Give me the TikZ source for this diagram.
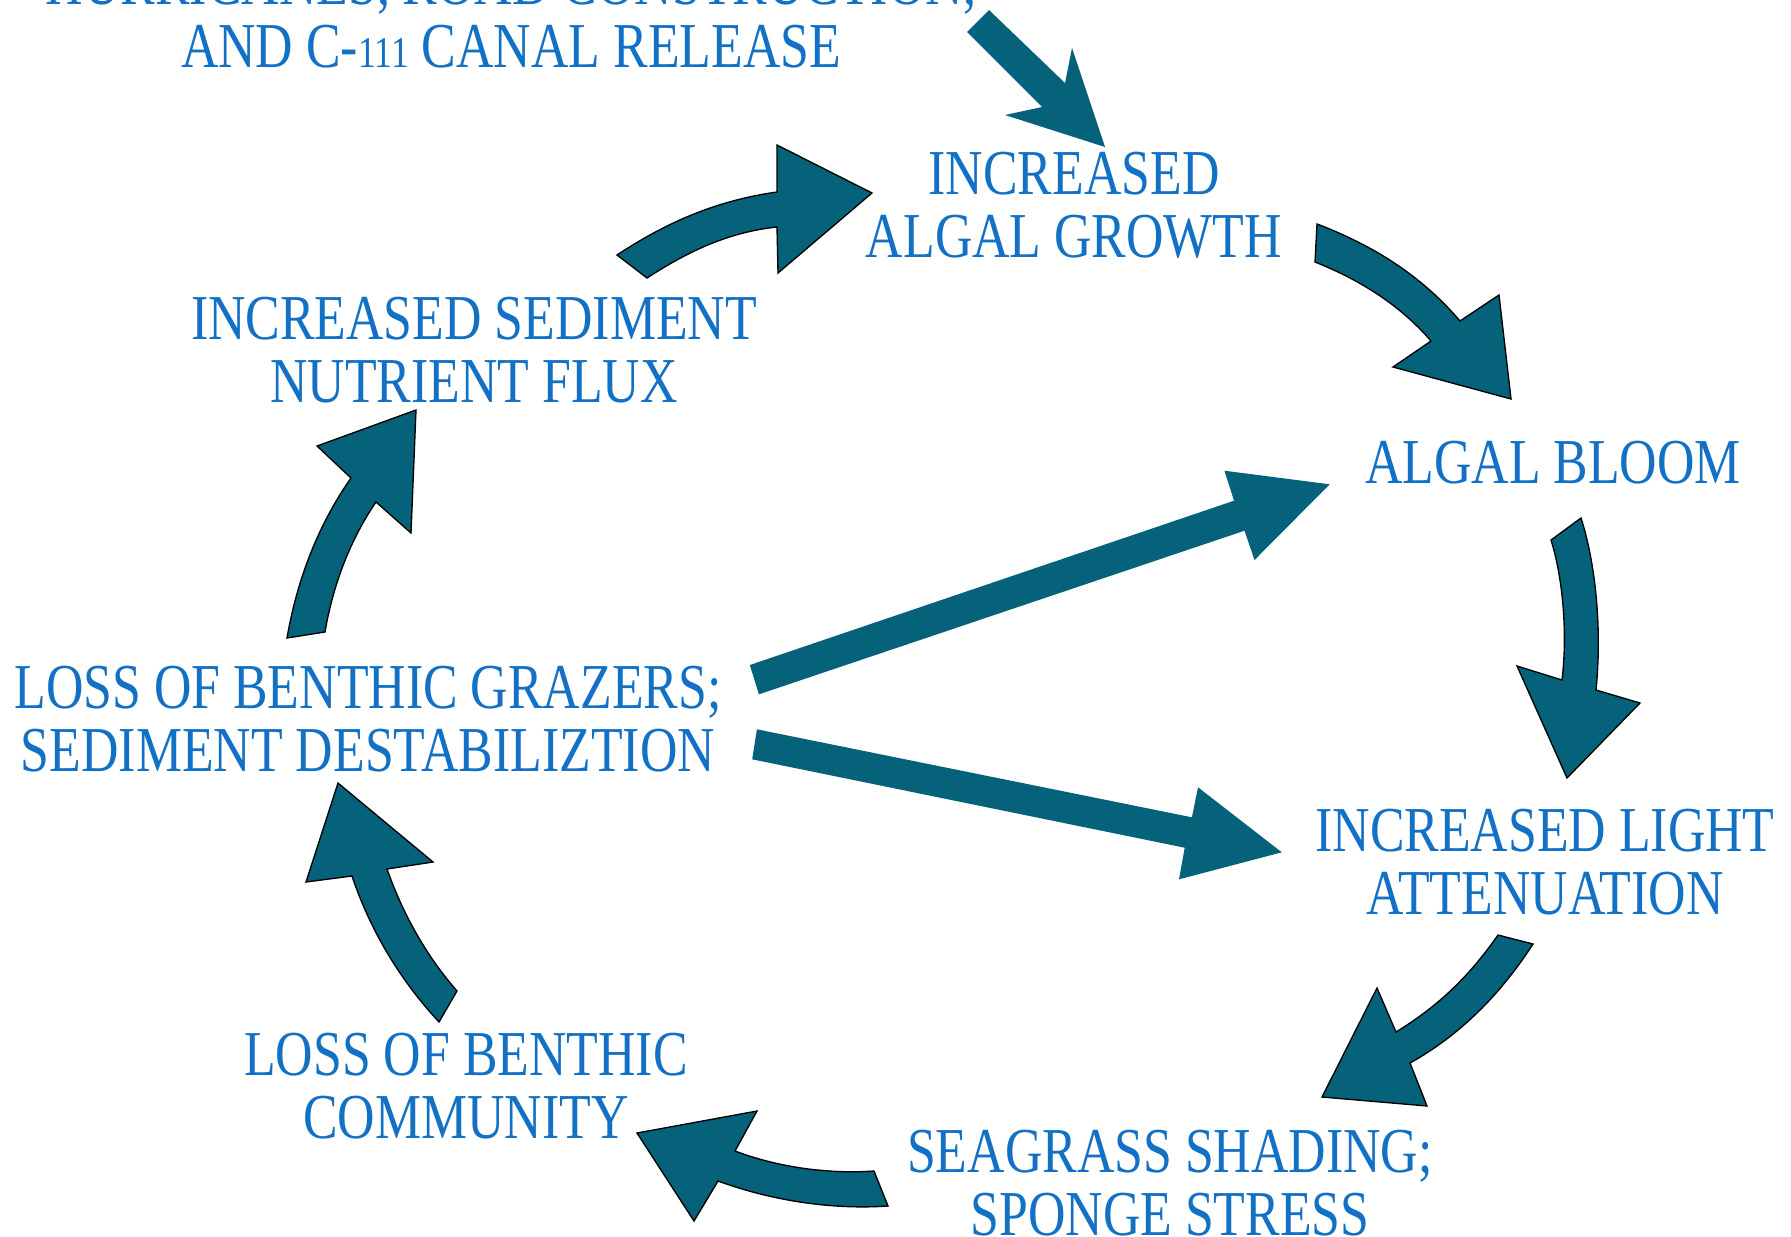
\documentclass[tikz,border=0pt]{standalone}
\usepackage{fontspec}
\setmainfont{Liberation Serif}[FakeStretch=0.81]
\definecolor{txtblue}{RGB}{19,113,197}
\definecolor{teal}{RGB}{5,98,122}
\begin{document}
\begin{tikzpicture}[x=0.75pt,y=-0.75pt,
  lbl/.style={anchor=base,inner sep=0pt,text=txtblue,font=\fontsize{48}{47.25}\selectfont},
  barrow/.style={fill=teal,draw=black,line width=1pt,line join=miter},
  plainarrow/.style={fill=teal,draw=none}]
\useasboundingbox (0,0) rectangle (1791,1236);
\fill[white] (0,0) rectangle (1791,1236);
\clip (0,0) rectangle (1791,1236);

% labels
\node[lbl] (src) at (511,4.6) {\begin{tabular}[t]{@{}c@{}}HURRICANES, ROAD CONSTRUCTION,\\AND C-{\fontsize{33}{33}\selectfont 111} CANAL RELEASE\end{tabular}};
\node[lbl] (growth) at (1074,194) {\begin{tabular}[t]{@{}c@{}}INCREASED\\ALGAL GROWTH\end{tabular}};
\node[lbl] (bloom) at (1553,483) {ALGAL BLOOM};
\node[lbl] (light) at (1545,851) {\begin{tabular}[t]{@{}c@{}}INCREASED LIGHT\\ATTENUATION\end{tabular}};
\node[lbl] (shade) at (1170,1172) {\begin{tabular}[t]{@{}c@{}}SEAGRASS SHADING;\\SPONGE STRESS\end{tabular}};
\node[lbl] (comm) at (466,1075) {\begin{tabular}[t]{@{}c@{}}LOSS OF BENTHIC\\COMMUNITY\end{tabular}};
\node[lbl] (graz) at (368,708) {\begin{tabular}[t]{@{}c@{}}LOSS OF BENTHIC GRAZERS;\\SEDIMENT DESTABILIZTION\end{tabular}};
\node[lbl] (flux) at (474,339) {\begin{tabular}[t]{@{}c@{}}INCREASED SEDIMENT\\NUTRIENT FLUX\end{tabular}};

% arrow A: source -> growth
\path[plainarrow] (989,10) -- (1065,83) -- (1072,48) -- (1105,147) -- (1005,115) -- (1042,107) -- (967,32) -- cycle;
% arrow B: flux -> growth
\path[barrow] (617,255) .. controls (670,220) and (720,200) .. (777,192) -- (777,145) -- (872,193) -- (778,273) -- (777,227) .. controls (730,232) and (690,250) .. (647,278) -- cycle;
% arrow C: growth -> bloom
\path[barrow] (1317,224) .. controls (1380,248) and (1425,280) .. (1460,321) -- (1499,295) -- (1511,399) -- (1393,367) -- (1431,341) .. controls (1400,305) and (1360,280) .. (1315,262) -- cycle;
% arrow D: bloom -> light
\path[barrow] (1551,540) .. controls (1562,575) and (1568,630) .. (1562,680) -- (1517,666) -- (1567,778) -- (1640,703) -- (1596,690) .. controls (1602,630) and (1596,565) .. (1581,518) -- cycle;
% arrow E: light -> shade
\path[barrow] (1498,935) .. controls (1470,975) and (1440,1005) .. (1396,1032) -- (1377,988) -- (1322,1097) -- (1427,1106) -- (1410,1063) .. controls (1460,1035) and (1500,995) .. (1533,944) -- cycle;
% arrow F: shade -> comm
\path[barrow] (874,1171) .. controls (830,1174) and (780,1168) .. (735,1151) -- (757,1111) -- (637,1133) -- (694,1221) -- (718,1181) .. controls (770,1200) and (830,1210) .. (888,1206) -- cycle;
% arrow G: comm -> graz
\path[barrow] (439,1022) .. controls (400,980) and (370,930) .. (352,876) -- (306,882) -- (338,783) -- (433,862) -- (387,869) .. controls (405,920) and (430,960) .. (457,991) -- cycle;
% arrow H: graz -> flux
\path[barrow] (287,638) .. controls (297,580) and (318,525) .. (351,478) -- (317,446) -- (416,410) -- (411,533) -- (376,502) .. controls (350,540) and (333,585) .. (325,632) -- cycle;
% arrow I: graz -> bloom
\path[plainarrow] (749.8,665) -- (1234,500.7) -- (1224.4,470.7) -- (1329.7,484.3) -- (1254.5,560) -- (1244.5,530.7) -- (758.9,694.3) -- cycle;
% arrow J: graz -> light
\path[plainarrow] (756.9,729.3) -- (1191.9,817.3) -- (1198,787.3) -- (1281.8,852.3) -- (1179,879.3) -- (1184.7,847.7) -- (752.2,759.3) -- cycle;
\end{tikzpicture}
\end{document}
